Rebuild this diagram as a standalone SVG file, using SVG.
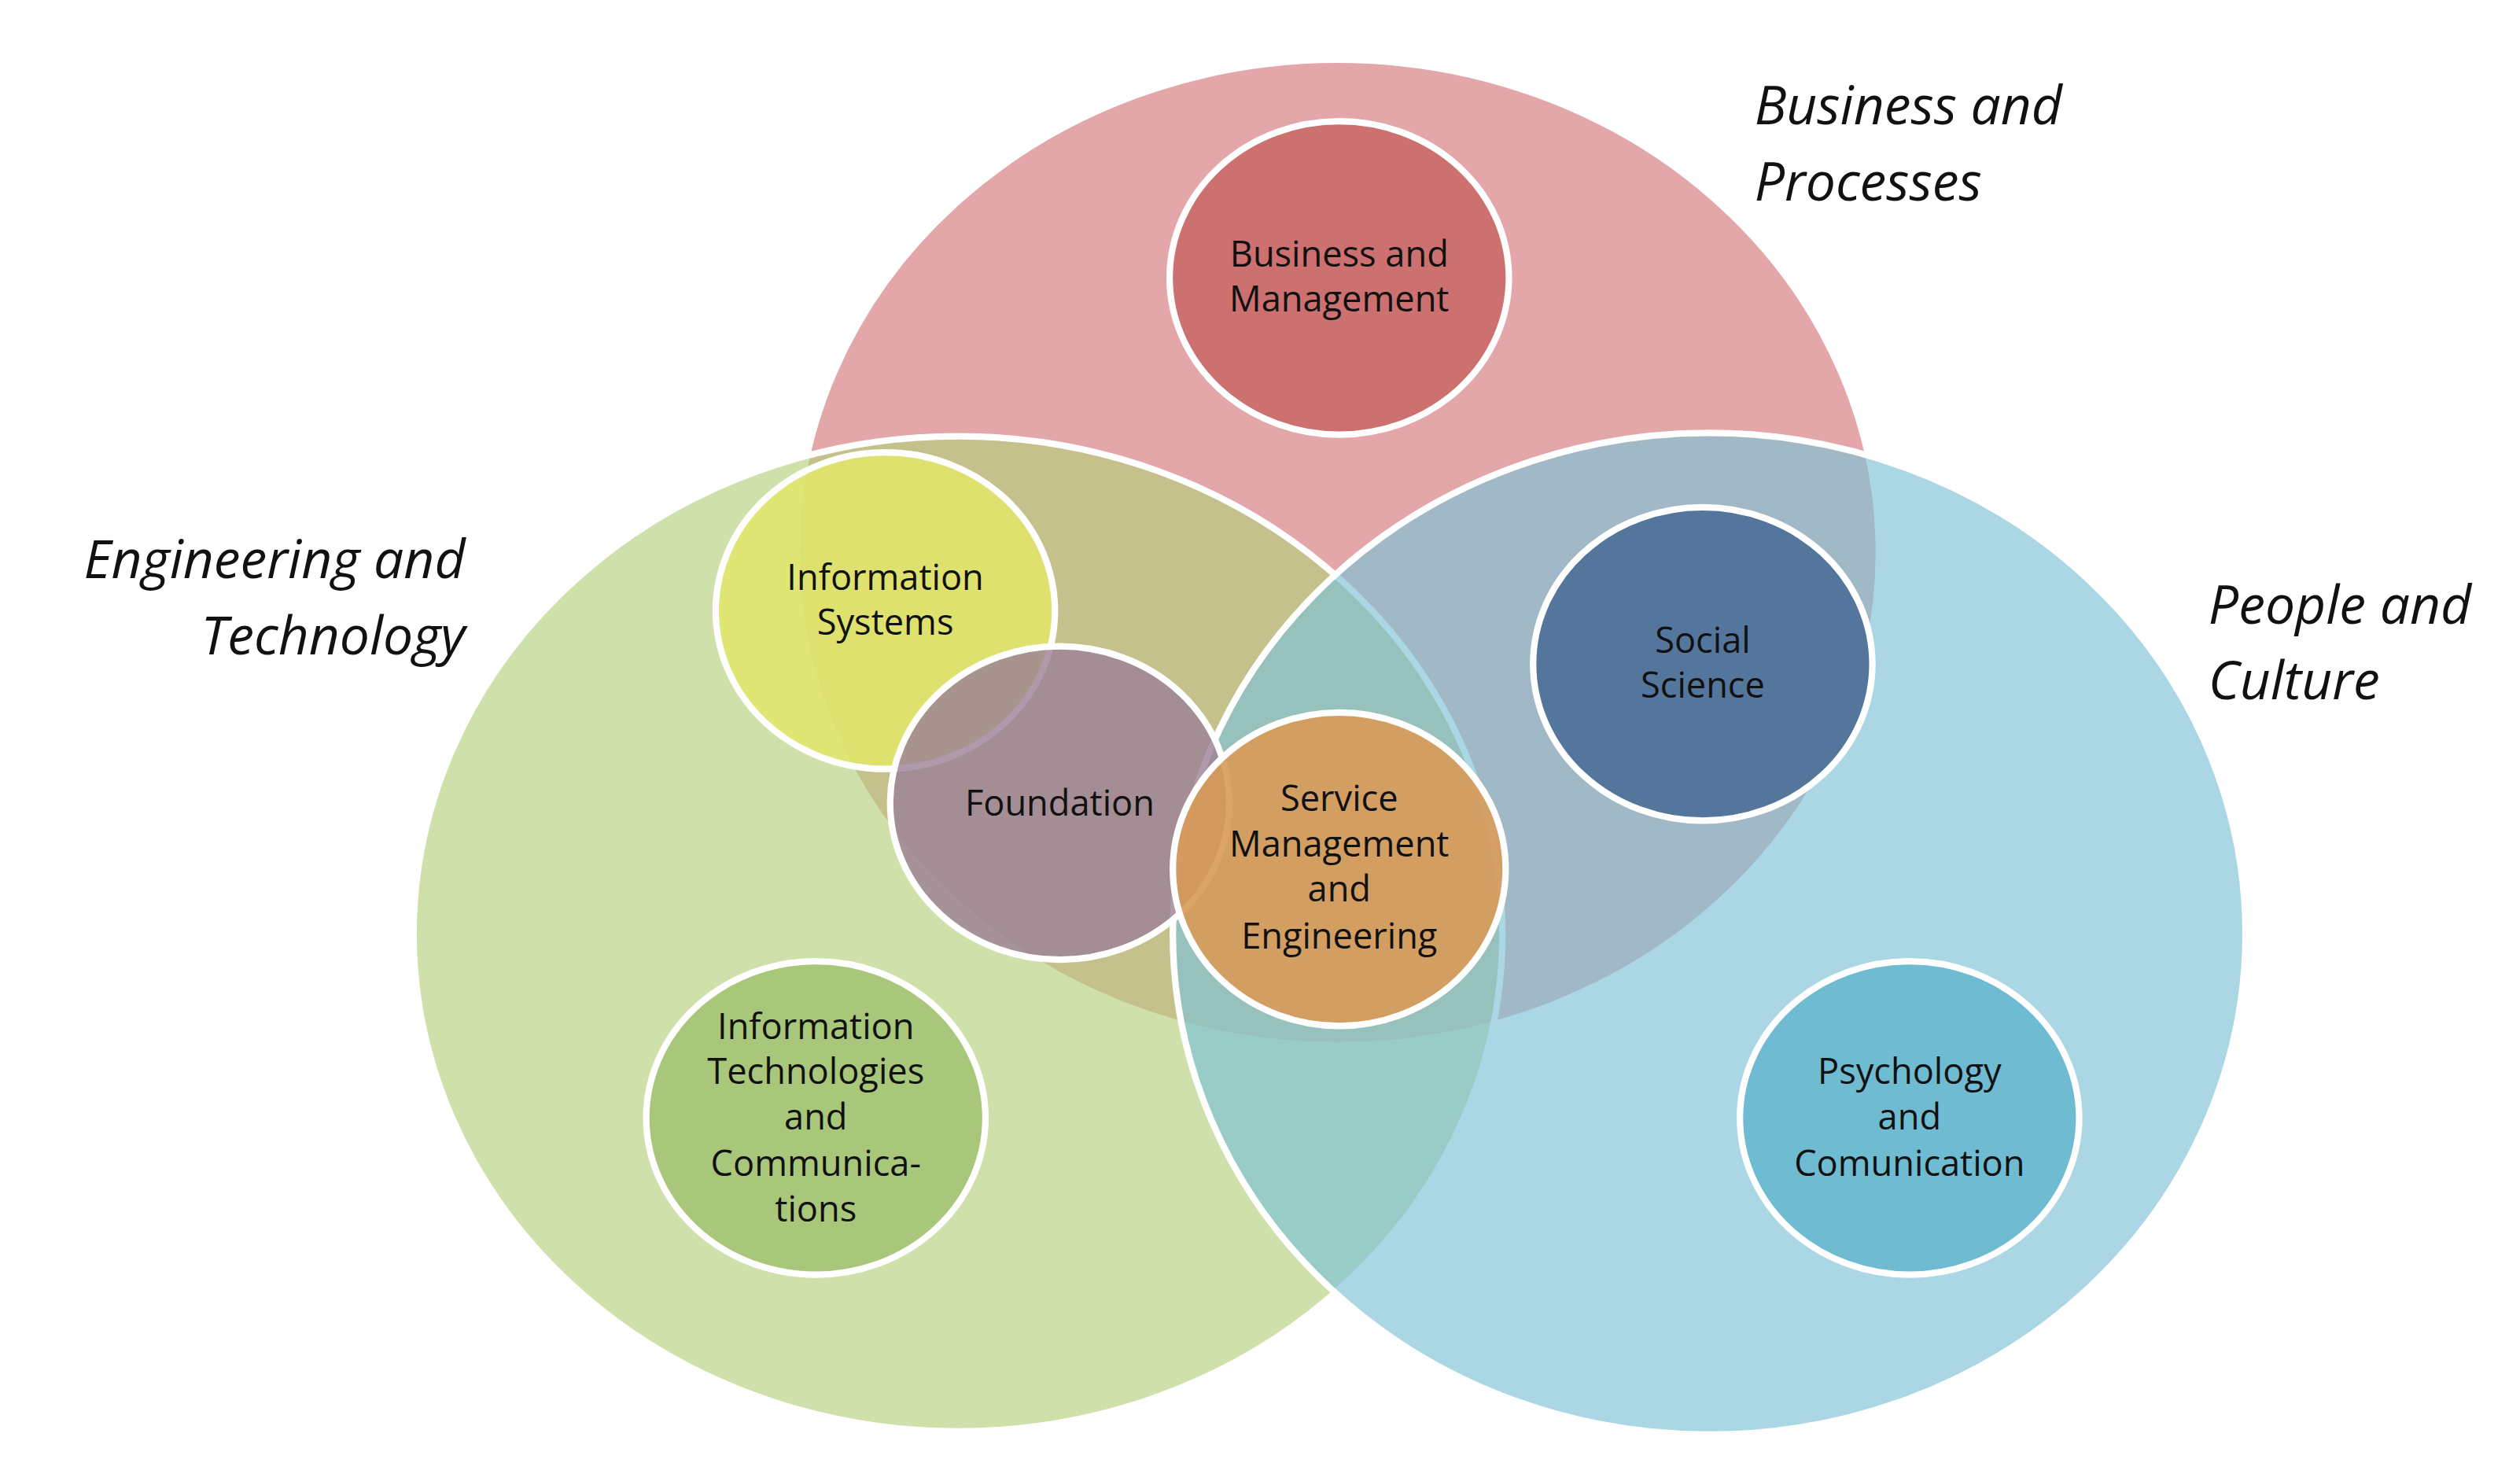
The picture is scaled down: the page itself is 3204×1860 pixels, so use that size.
<svg xmlns="http://www.w3.org/2000/svg" width="3204" height="1860" viewBox="0 0 3204 1860">
<style>
.big{stroke:#fff;stroke-width:4}
.sm{stroke:#fff;stroke-width:4}
.t{font-family:"Open Sans","Liberation Sans",sans-serif;font-size:22px;fill:#111;text-anchor:middle}
.h{font-family:"Open Sans","Liberation Sans",sans-serif;font-size:33px;font-style:italic;fill:#111}
</style>
<rect width="3204" height="1860" fill="#fff"/>
<g transform="scale(2.054)">
<g id="big-circles">
<ellipse id="business" class="big" cx="828" cy="342" rx="335" ry="305" fill="#d4767b" fill-opacity="0.65"/>
<ellipse id="engineering" class="big" cx="593" cy="578" rx="337" ry="308" fill="#b5cf7e" fill-opacity="0.65"/>
<ellipse id="people" class="big" cx="1058" cy="578" rx="332" ry="310" fill="#7ec2d6" fill-opacity="0.65"/>
</g>
<g id="n-bm"><ellipse class="sm" cx="829" cy="172" rx="105" ry="97" fill="#cc7070"/><text class="t" x="829" y="165">Business and</text><text class="t" x="829" y="193">Management</text></g>
<g id="n-is"><ellipse class="sm" cx="548" cy="378" rx="105" ry="98" fill="#e3e66a" fill-opacity="0.85"/><text class="t" x="548" y="365">Information</text><text class="t" x="548" y="393">Systems</text></g>
<g id="n-found"><ellipse class="sm" cx="656" cy="497" rx="105" ry="97" fill="#9b7f96" fill-opacity="0.8"/><text class="t" x="656" y="505">Foundation</text></g>
<g id="n-sme"><ellipse class="sm" cx="829" cy="538" rx="103" ry="97" fill="#d89a58" fill-opacity="0.9"/><text class="t" x="829" y="502">Service</text><text class="t" x="829" y="530">Management</text><text class="t" x="829" y="558">and</text><text class="t" x="829" y="587">Engineering</text></g>
<g id="n-ss"><ellipse class="sm" cx="1054" cy="411" rx="105" ry="97" fill="#55769c"/><text class="t" x="1054" y="404">Social</text><text class="t" x="1054" y="432">Science</text></g>
<g id="n-itc"><ellipse class="sm" cx="505" cy="692" rx="105" ry="97" fill="#a9c77a"/><text class="t" x="505" y="643">Information</text><text class="t" x="505" y="671">Technologies</text><text class="t" x="505" y="699">and</text><text class="t" x="505" y="728">Communica-</text><text class="t" x="505" y="756">tions</text></g>
<g id="n-pc"><ellipse class="sm" cx="1182" cy="692" rx="105" ry="97" fill="#6fbcd2"/><text class="t" x="1182" y="671">Psychology</text><text class="t" x="1182" y="699">and</text><text class="t" x="1182" y="728">Comunication</text></g>
<g id="labels">
<text class="h" x="1086" y="77">Business and</text><text class="h" x="1086" y="124">Processes</text>
<text class="h" x="288" y="358" text-anchor="end">Engineering and</text><text class="h" x="288" y="405" text-anchor="end">Technology</text>
<text class="h" x="1367" y="386">People and</text><text class="h" x="1367" y="433">Culture</text>
</g>
</g>
</svg>
